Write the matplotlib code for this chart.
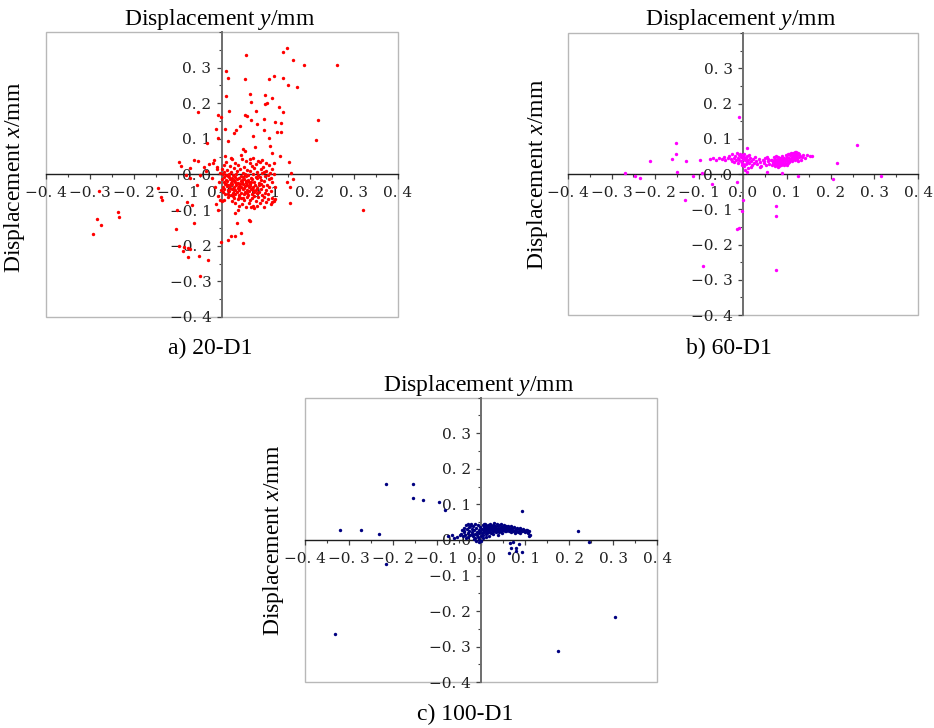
#!/usr/bin/env python3
"""Scatter of measured displacement (y vs x) for 20-D1, 60-D1 and 100-D1,
drawn with the axes crossing at the origin inside a light frame."""
import matplotlib
matplotlib.use("Agg")
import matplotlib.pyplot as plt
from matplotlib.patches import Rectangle
from matplotlib.ticker import FixedLocator, MultipleLocator
import numpy as np

plt.rcParams["mathtext.fontset"] = "custom"
plt.rcParams["mathtext.rm"] = "Liberation Serif"
plt.rcParams["mathtext.it"] = "Liberation Serif:italic"

# (displacement y, displacement x) in mm
pts_20 = [
    (0.149, 0.355), (0.139, 0.343), (0.161, 0.322), (0.186, 0.308), (0.261, 0.306),
    (0.054, 0.336), (0.009, 0.291), (0.014, 0.272), (0.053, 0.268), (0.139, 0.272),
    (0.119, 0.275), (0.107, 0.268), (0.150, 0.252), (0.170, 0.245), (0.010, 0.219),
    (0.063, 0.225), (0.097, 0.222), (0.114, 0.216), (0.067, 0.203), (0.097, 0.198),
    (0.103, 0.200), (0.130, 0.189), (0.139, 0.176), (0.017, 0.177), (-0.053, 0.174),
    (0.078, 0.177), (0.053, 0.168), (0.057, 0.163), (0.095, 0.155), (0.218, 0.152),
    (-0.009, 0.167), (-0.002, 0.161), (0.066, 0.152), (0.121, 0.146), (0.135, 0.144),
    (0.080, 0.142), (0.042, 0.137), (-0.014, 0.129), (0.008, 0.129), (0.027, 0.116),
    (0.032, 0.125), (0.095, 0.125), (0.125, 0.118), (0.135, 0.118), (0.070, 0.107),
    (0.108, 0.102), (0.214, 0.097), (-0.008, 0.102), (0.015, 0.095), (-0.033, 0.088),
    (0.076, 0.077), (0.110, 0.079), (0.047, 0.072), (0.053, 0.065), (0.115, 0.060),
    (0.131, 0.053), (0.044, 0.055), (0.008, 0.051), (0.024, 0.043), (0.064, 0.043),
    (0.083, 0.039), (0.119, 0.032), (0.152, 0.034), (-0.098, 0.035), (-0.063, 0.041),
    (-0.053, 0.039), (-0.093, 0.025), (-0.072, 0.018), (-0.040, 0.021), (-0.019, 0.032),
    (-0.011, 0.015), (0.158, 0.004), (0.161, -0.012), (0.149, -0.020), (0.155, -0.034),
    (-0.081, -0.001), (-0.073, -0.010), (-0.049, -0.001), (-0.057, -0.029), (-0.144, -0.038),
    (-0.138, -0.062), (-0.136, -0.071), (-0.280, -0.046), (-0.236, -0.106), (-0.233, -0.118),
    (-0.284, -0.124), (-0.274, -0.143), (-0.292, -0.168), (-0.102, -0.099), (-0.080, -0.076),
    (-0.068, -0.085), (-0.063, -0.137), (-0.105, -0.153), (-0.097, -0.202), (-0.085, -0.204),
    (-0.089, -0.216), (-0.077, -0.207), (-0.072, -0.210), (-0.077, -0.233), (-0.051, -0.228),
    (-0.031, -0.239), (-0.049, -0.286), (-0.008, -0.099), (-0.005, -0.071), (-0.013, -0.082),
    (-0.002, -0.190), (0.014, -0.185), (0.020, -0.172), (0.030, -0.172), (0.043, -0.165),
    (0.048, -0.191), (0.061, -0.127), (0.064, -0.132), (0.034, -0.135), (0.030, -0.109),
    (0.072, -0.094), (0.055, -0.090), (0.070, -0.088), (0.036, -0.099), (0.154, -0.080),
    (0.320, -0.099), (0.114, -0.076), (0.121, -0.069),
    # main cloud
    (0.020, 0.047), (0.046, 0.043), (0.071, 0.046), (0.091, 0.041),
    (0.010, 0.036), (0.031, 0.033), (0.054, 0.037), (0.063, 0.031), (0.086, 0.035), (0.101, 0.032),
    (0.004, 0.026), (0.018, 0.023), (0.036, 0.027), (0.050, 0.022), (0.068, 0.025), (0.078, 0.028),
    (0.094, 0.021), (0.108, 0.026),
    (0.000, 0.016), (0.012, 0.013), (0.027, 0.017), (0.041, 0.014), (0.058, 0.012), (0.072, 0.018),
    (0.088, 0.015), (0.101, 0.011), (0.115, 0.016),
    (0.006, 0.008), (0.020, 0.006), (0.034, 0.010), (0.047, 0.005), (0.063, 0.009), (0.080, 0.006),
    (0.096, 0.008), (0.110, 0.004),
    (0.002, 0.001), (0.010, -0.002), (0.017, 0.002), (0.025, -0.001), (0.033, 0.001), (0.044, -0.003),
    (0.052, 0.002), (0.060, -0.001), (0.071, 0.000), (0.083, -0.002), (0.092, 0.003), (0.104, -0.001),
    (0.118, 0.001),
    (0.005, -0.008), (0.013, -0.005), (0.022, -0.009), (0.030, -0.006), (0.039, -0.010), (0.048, -0.007),
    (0.056, -0.004), (0.066, -0.009), (0.077, -0.006), (0.087, -0.008), (0.099, -0.005), (0.112, -0.009),
    (0.001, -0.013), (0.009, -0.016), (0.018, -0.012), (0.027, -0.015), (0.035, -0.013), (0.043, -0.017),
    (0.051, -0.012), (0.059, -0.016), (0.068, -0.014), (0.079, -0.011), (0.090, -0.015), (0.106, -0.013),
    (0.004, -0.022), (0.012, -0.019), (0.020, -0.023), (0.029, -0.020), (0.037, -0.024), (0.045, -0.021),
    (0.054, -0.018), (0.062, -0.022), (0.073, -0.020), (0.084, -0.024), (0.095, -0.019), (0.113, -0.022),
    (0.007, -0.027), (0.015, -0.030), (0.024, -0.026), (0.032, -0.029), (0.040, -0.031), (0.049, -0.027),
    (0.057, -0.030), (0.065, -0.026), (0.075, -0.029), (0.088, -0.027), (0.102, -0.030),
    (0.002, -0.036), (0.011, -0.033), (0.019, -0.037), (0.028, -0.034), (0.036, -0.038), (0.044, -0.035),
    (0.052, -0.032), (0.061, -0.036), (0.070, -0.034), (0.081, -0.037), (0.093, -0.033), (0.108, -0.036),
    (0.121, -0.034),
    (0.006, -0.041), (0.014, -0.044), (0.023, -0.040), (0.031, -0.043), (0.040, -0.045), (0.048, -0.041),
    (0.057, -0.044), (0.066, -0.040), (0.077, -0.043), (0.089, -0.041), (0.100, -0.044),
    (0.003, -0.050), (0.017, -0.047), (0.026, -0.051), (0.035, -0.048), (0.043, -0.052), (0.053, -0.049),
    (0.062, -0.046), (0.073, -0.050), (0.085, -0.048), (0.097, -0.051), (0.111, -0.047),
    (0.008, -0.055), (0.021, -0.058), (0.030, -0.054), (0.039, -0.057), (0.050, -0.055), (0.059, -0.059),
    (0.069, -0.056), (0.080, -0.053), (0.092, -0.057), (0.105, -0.055),
    (0.013, -0.063), (0.027, -0.066), (0.038, -0.062), (0.047, -0.065), (0.057, -0.063), (0.068, -0.067),
    (0.082, -0.064), (0.095, -0.062), (0.113, -0.065),
    (0.005, -0.071), (0.022, -0.074), (0.036, -0.070), (0.050, -0.073), (0.064, -0.071), (0.078, -0.075),
    (0.091, -0.072), (0.104, -0.070), (0.118, -0.074),
    (0.030, -0.080), (0.046, -0.082), (0.061, -0.079), (0.087, -0.081), (0.100, -0.078), (0.112, -0.083),
    (0.040, -0.089), (0.067, -0.091), (0.080, -0.088), (0.095, -0.090),
    (0.016, -0.006), (0.024, -0.017), (0.033, -0.025), (0.041, -0.028), (0.046, -0.015), (0.055, -0.025),
    (0.063, -0.033), (0.071, -0.045), (0.038, -0.042), (0.028, -0.045), (0.019, -0.030), (0.050, -0.038),
    (0.058, -0.052), (0.067, -0.020), (0.074, -0.060), (0.085, -0.030), (0.014, -0.054), (0.026, -0.061),
    (0.043, -0.067), (0.009, -0.028),
    (-0.004, 0.005), (-0.006, -0.020), (-0.003, -0.045), (-0.008, -0.060), (0.000, -0.075),
    (-0.018, 0.040), (-0.028, 0.028), (-0.012, 0.020), (-0.022, -0.010), (-0.035, 0.010), (-0.015, -0.035),
]

pts_60 = [
    (0.261, 0.082), (-0.009, 0.163), (-0.154, 0.089), (-0.152, 0.057), (-0.161, 0.042),
    (-0.213, 0.038), (-0.129, 0.038), (-0.097, 0.040), (-0.151, 0.007), (-0.269, 0.002),
    (-0.247, -0.006), (-0.235, -0.012), (-0.113, -0.005), (-0.070, -0.027), (-0.132, -0.074),
    (-0.093, 0.002), (0.215, 0.033), (0.206, -0.014), (0.316, -0.005), (0.126, -0.005),
    (0.054, 0.007), (0.088, 0.004), (-0.013, -0.022), (0.001, -0.074), (-0.002, -0.104),
    (-0.009, -0.154), (-0.013, -0.157), (0.076, -0.091), (0.076, -0.119), (-0.091, -0.260),
    (0.076, -0.273), (0.008, 0.073), (-0.002, 0.032),
    # band
    (-0.075, 0.044), (-0.068, 0.047), (-0.062, 0.041), (-0.055, 0.046), (-0.049, 0.043), (-0.044, 0.049),
    (-0.040, 0.040), (-0.035, 0.045), (-0.031, 0.051), (-0.027, 0.043), (-0.024, 0.056), (-0.021, 0.047),
    (-0.018, 0.052), (-0.016, 0.040), (-0.014, 0.060), (-0.012, 0.046), (-0.010, 0.053), (-0.008, 0.041),
    (-0.007, 0.057), (-0.005, 0.049), (-0.004, 0.036), (-0.002, 0.054), (0.000, 0.044), (0.001, 0.030),
    (0.002, 0.050), (0.003, 0.022), (0.004, 0.039), (0.005, 0.012), (0.006, 0.046), (0.007, 0.028),
    (0.008, 0.006), (0.009, 0.035), (0.010, 0.052), (0.011, 0.018), (0.012, 0.041), (0.014, 0.031),
    (0.016, 0.047), (0.018, 0.036), (0.020, 0.026), (0.022, 0.043), (0.025, 0.033), (0.027, 0.048),
    (0.030, 0.038), (-0.020, 0.034), (-0.011, 0.031), (-0.003, 0.025), (0.003, 0.058), (-0.026, 0.038),
    (0.013, 0.055), (0.019, 0.021),
    (0.033, 0.028), (0.036, 0.044), (0.039, 0.034), (0.042, 0.024), (0.045, 0.040), (0.048, 0.031),
    (0.051, 0.046), (0.053, 0.027), (0.056, 0.037), (0.058, 0.043), (0.060, 0.030), (0.063, 0.039),
    (0.038, 0.021), (0.047, 0.036), (0.055, 0.050),
    (0.066, 0.026), (0.067, 0.041), (0.068, 0.033), (0.070, 0.048), (0.071, 0.029), (0.072, 0.037),
    (0.073, 0.022), (0.074, 0.044), (0.075, 0.031), (0.076, 0.039), (0.077, 0.026), (0.078, 0.035),
    (0.079, 0.049), (0.080, 0.029), (0.081, 0.042), (0.082, 0.024), (0.083, 0.036), (0.084, 0.031),
    (0.085, 0.046), (0.086, 0.027), (0.087, 0.039), (0.088, 0.033), (0.089, 0.052), (0.090, 0.029),
    (0.091, 0.043), (0.092, 0.036), (0.093, 0.025), (0.094, 0.047), (0.095, 0.032), (0.096, 0.040),
    (0.097, 0.055), (0.098, 0.029), (0.099, 0.044), (0.100, 0.036), (0.101, 0.050), (0.102, 0.031),
    (0.103, 0.058), (0.104, 0.041), (0.105, 0.046), (0.106, 0.034), (0.107, 0.053), (0.108, 0.039),
    (0.109, 0.060), (0.110, 0.044), (0.111, 0.049), (0.112, 0.036), (0.113, 0.055), (0.114, 0.042),
    (0.115, 0.061), (0.116, 0.047), (0.117, 0.052), (0.118, 0.039), (0.119, 0.058), (0.120, 0.045),
    (0.121, 0.063), (0.122, 0.050), (0.123, 0.055), (0.124, 0.043), (0.125, 0.060), (0.127, 0.048),
    (0.128, 0.056), (0.130, 0.052), (0.126, 0.037), (0.080, 0.020), (0.088, 0.045), (0.076, 0.051),
    (0.093, 0.040), (0.084, 0.038), (0.100, 0.027), (0.069, 0.035), (0.073, 0.040), (0.091, 0.030),
    (0.106, 0.057), (0.112, 0.045), (0.118, 0.062),
    (0.135, 0.049), (0.138, 0.054), (0.142, 0.046), (0.147, 0.053), (0.152, 0.051), (0.157, 0.052),
    (0.133, 0.040),
]

pts_100 = [
    (-0.217, 0.156), (-0.155, 0.156), (-0.155, 0.118), (-0.132, 0.111), (-0.095, 0.108),
    (-0.083, 0.085), (-0.321, 0.029), (-0.273, 0.029), (-0.233, 0.017), (-0.217, -0.067),
    (-0.333, -0.264), (0.175, -0.311), (0.303, -0.217), (0.220, 0.026), (0.245, -0.007),
    (0.093, 0.081),
    # band
    (-0.045, 0.018), (-0.043, 0.028), (-0.041, 0.010), (-0.040, 0.035), (-0.038, 0.022), (-0.036, 0.014),
    (-0.035, 0.042), (-0.033, 0.030), (-0.031, 0.019), (-0.030, 0.008), (-0.028, 0.036), (-0.027, 0.025),
    (-0.025, 0.015), (-0.024, 0.044), (-0.022, 0.031), (-0.021, 0.021), (-0.019, 0.010), (-0.018, 0.038),
    (-0.016, 0.027), (-0.015, 0.017), (-0.013, 0.005), (-0.012, 0.034), (-0.010, 0.023), (-0.009, 0.013),
    (-0.008, 0.041), (-0.006, 0.029), (-0.005, 0.019), (-0.004, 0.003), (-0.003, 0.036), (-0.002, 0.025),
    (-0.001, 0.011), (-0.040, 0.026), (-0.034, 0.006), (-0.026, 0.040), (-0.020, 0.016), (-0.014, 0.045),
    (-0.007, 0.008), (-0.011, -0.004), (-0.005, -0.007), (0.000, -0.003), (-0.017, 0.002), (-0.029, 0.046),
    (0.001, 0.032), (0.002, 0.020), (0.003, 0.041), (0.004, 0.014), (0.005, 0.027), (0.006, 0.036),
    (0.007, 0.022), (0.008, 0.045), (0.009, 0.030), (0.010, 0.017), (0.011, 0.039), (0.012, 0.026),
    (0.013, 0.033), (0.014, 0.020), (0.015, 0.043), (0.016, 0.029), (0.017, 0.036), (0.018, 0.023),
    (0.019, 0.031), (0.020, 0.046), (0.021, 0.027), (0.022, 0.038), (0.023, 0.019), (0.024, 0.034),
    (0.025, 0.029), (0.026, 0.042), (0.027, 0.024), (0.028, 0.036), (0.029, 0.031), (0.030, 0.047),
    (0.031, 0.026), (0.032, 0.039), (0.033, 0.021), (0.034, 0.035), (0.035, 0.030), (0.036, 0.044),
    (0.037, 0.025), (0.038, 0.038), (0.039, 0.032), (0.040, 0.022), (0.041, 0.041), (0.042, 0.029),
    (0.043, 0.035), (0.044, 0.046), (0.045, 0.026), (0.046, 0.037), (0.047, 0.031), (0.048, 0.020),
    (0.049, 0.040), (0.050, 0.028), (0.051, 0.034), (0.052, 0.043), (0.053, 0.024), (0.054, 0.037),
    (0.055, 0.030), (0.056, 0.040), (0.057, 0.025), (0.058, 0.034), (0.059, 0.029), (0.060, 0.038),
    (0.004, 0.005), (0.010, 0.008), (0.018, 0.012), (0.027, 0.016), (0.038, 0.014), (0.006, 0.046),
    (0.062, 0.026), (0.064, 0.035), (0.065, 0.030), (0.067, 0.021), (0.068, 0.038), (0.070, 0.028),
    (0.071, 0.033), (0.073, 0.024), (0.074, 0.036), (0.076, 0.029), (0.077, 0.019), (0.079, 0.032),
    (0.080, 0.026), (0.082, 0.035), (0.083, 0.022), (0.085, 0.030), (0.086, 0.025), (0.088, 0.033),
    (0.089, 0.020), (0.091, 0.028), (0.093, 0.024), (0.095, 0.031), (0.097, 0.026), (0.099, 0.022),
    (0.101, 0.029), (0.103, 0.024), (0.105, 0.027), (0.107, 0.019), (0.109, 0.025), (0.110, 0.015),
    (0.108, 0.011),
    (0.065, -0.009), (0.064, -0.037), (0.068, -0.022), (0.080, -0.023), (0.078, -0.032), (0.093, -0.035),
    (0.072, -0.005), (0.085, -0.012),
    (-0.076, 0.010), (-0.066, 0.014), (-0.055, 0.007), (-0.048, 0.013), (-0.062, 0.005),
]

panel_captions = ["a) 20-D1", "b) 60-D1", "c) 100-D1"]
panel_colors = ["#ff0000", "#ff00ff", "#000080"]
x_ticks = [-0.4, -0.3, -0.2, -0.1, 0.0, 0.1, 0.2, 0.3, 0.4]
y_ticks = [-0.4, -0.3, -0.2, -0.1, 0.0, 0.1, 0.2, 0.3]

SERIF = "Liberation Serif"
TICK_FONT = "DejaVu Serif"


def tick_text(v):
    s = f"{abs(v):.1f}".replace(".", ". ")
    return ("\u2212" + s) if v < 0 else s


def draw_panel(fig, rect, pts, color, caption, title_xy, ylab_xy, cap_xy):
    ax = fig.add_axes(rect)
    xy = np.array(pts)
    ax.scatter(xy[:, 0], xy[:, 1], s=6, marker="o", color=color,
               linewidths=0, zorder=3)
    ax.set_xlim(-0.4, 0.4)
    ax.set_ylim(-0.4, 0.4)

    # axes cross at the origin, light frame around the plot area
    ax.spines["left"].set_position(("data", 0))
    ax.spines["bottom"].set_position(("data", 0))
    ax.spines["top"].set_visible(False)
    ax.spines["right"].set_visible(False)
    ax.spines["left"].set_color("#6e6e6e")
    ax.spines["left"].set_linewidth(1.4)
    ax.spines["bottom"].set_color("#1e1e1e")
    ax.spines["bottom"].set_linewidth(1.0)
    ax.add_patch(Rectangle((0, 0), 1, 1, transform=ax.transAxes, fill=False,
                           ec="#b8b8b8", lw=1.0, clip_on=False, zorder=1))

    ax.xaxis.set_major_locator(FixedLocator(x_ticks))
    ax.yaxis.set_major_locator(FixedLocator(y_ticks))
    ax.xaxis.set_minor_locator(MultipleLocator(0.05))
    ax.yaxis.set_minor_locator(MultipleLocator(0.05))
    ax.set_xticklabels([tick_text(v) for v in x_ticks])
    ax.set_yticklabels([tick_text(v) for v in y_ticks])
    ax.tick_params(which="major", direction="out", length=3.5, width=0.9,
                   color="#444444", labelsize=11)
    ax.tick_params(which="minor", direction="out", length=2.5, width=0.8,
                   color="#444444")
    ax.tick_params(axis="x", which="major", pad=5)
    ax.tick_params(axis="y", which="major", pad=4)
    for lab in ax.get_xticklabels() + ax.get_yticklabels():
        lab.set_fontfamily(TICK_FONT)
        lab.set_color("#222222")

    W, H = fig.get_size_inches() * fig.dpi
    fig.text(title_xy[0] / W, 1 - title_xy[1] / H,
             r"Displacement $\mathit{y}$/mm", ha="center", va="center",
             fontsize=17, family=SERIF)
    fig.text(ylab_xy[0] / W, 1 - ylab_xy[1] / H,
             r"Displacement $\mathit{x}$/mm", ha="center", va="center",
             rotation=90, fontsize=17, family=SERIF)
    fig.text(cap_xy[0] / W, 1 - cap_xy[1] / H, caption, ha="center",
             va="center", fontsize=17, family=SERIF)
    return ax


def main():
    fig = plt.figure(figsize=(9.34, 7.28), dpi=100)
    draw_panel(fig, [0.0489, 0.5646, 0.3772, 0.3915], pts_20, panel_colors[0],
               panel_captions[0], (220, 20), (15, 177), (210, 348))
    draw_panel(fig, [0.6078, 0.5673, 0.3754, 0.3870], pts_60, panel_colors[1],
               panel_captions[1], (741, 20), (537, 174), (729, 348))
    draw_panel(fig, [0.3266, 0.0628, 0.3772, 0.3910], pts_100, panel_colors[2],
               panel_captions[2], (479, 385), (274, 540), (465, 714))
    fig.savefig("out.png", dpi=100)


if __name__ == "__main__":
    main()
